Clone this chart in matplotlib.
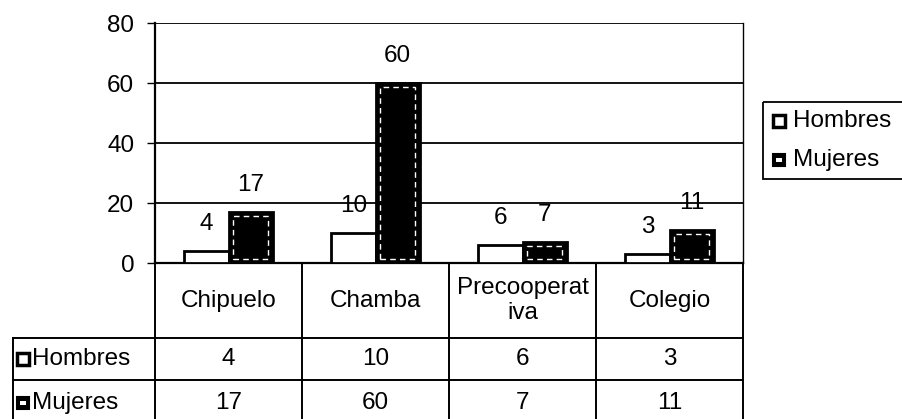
import matplotlib.pyplot as plt
from matplotlib.patches import Rectangle

categories = ['Chipuelo', 'Chamba', 'Precooperat\niva', 'Colegio']
series = ['Hombres', 'Mujeres']
hombres = [4, 10, 6, 3]
mujeres = [17, 60, 7, 11]

plt.rcParams['font.family'] = ['Liberation Sans', 'DejaVu Sans']
FS = 17.5
W, H = 902, 419
fig = plt.figure(figsize=(W / 100, H / 100), dpi=100)

# plot area in pixels
x0, x1, ytop, ybot = 155, 743, 23, 263
ax = fig.add_axes([x0 / W, 1 - ybot / H, (x1 - x0) / W, (ybot - ytop) / H])

n = len(categories)
pos = list(range(n))
bw = 0.3
b1 = ax.bar([p - bw / 2 for p in pos], hombres, bw, color='white', edgecolor='black', linewidth=2, zorder=3)
b2 = ax.bar([p + bw / 2 for p in pos], mujeres, bw, color='black', edgecolor='black', linewidth=2, zorder=3)
# dashed white inner outline of the dark bars (pattern fill in the scan)
for b, v in zip(b2, mujeres):
    ax.add_patch(Rectangle((b.get_x() + 0.03, 1.2), b.get_width() - 0.06, v - 2.4,
                           fill=False, edgecolor='white', linewidth=1, linestyle=(0, (4, 3)), zorder=4))
for bars, vals in ((b1, hombres), (b2, mujeres)):
    for b, v in zip(bars, vals):
        ax.annotate(str(v), (b.get_x() + b.get_width() / 2, v), xytext=(0, 27),
                    textcoords='offset pixels', ha='center', va='center', fontsize=FS)

ax.set_xlim(-0.5, n - 0.5)
ax.set_ylim(0, 80)
ax.set_yticks(range(0, 81, 20))
ax.set_xticks([])
ax.yaxis.grid(True, color='black', linewidth=1.3)
ax.set_axisbelow(True)
ax.spines['top'].set_visible(False)
ax.spines['right'].set_linewidth(1)
ax.spines['left'].set_linewidth(1.6)
ax.spines['bottom'].set_linewidth(1.6)
ax.tick_params(axis='y', direction='out', length=6, width=1, labelsize=FS, pad=9)

# data table and legend drawn on an overlay in pixel coordinates
ov = fig.add_axes([0, 0, 1, 1])
ov.set_xlim(0, W)
ov.set_ylim(H, 0)
ov.axis('off')

colw = (x1 - x0) / n
tleft = 13
rows = [(ybot, 338), (338, 380), (380, 426)]
kw = dict(color='black', linewidth=1.4, clip_on=False)
for y in (rows[1][0], rows[2][0]):
    ov.plot([tleft, x1], [y, y], **kw)
ov.plot([tleft, tleft], [rows[1][0], rows[2][1]], **kw)
for k in range(n + 1):
    xx = x0 + k * colw
    ov.plot([xx, xx], [rows[0][0], rows[2][1]], **kw)


def key(x, yc, i):
    if i == 0:
        ov.add_patch(Rectangle((x, yc - 6), 12, 12, facecolor='white', edgecolor='black', linewidth=2.5))
    else:
        ov.add_patch(Rectangle((x, yc - 6), 12, 12, facecolor='black', edgecolor='black', linewidth=1.5))
        ov.add_patch(Rectangle((x + 3, yc - 2), 6, 4, facecolor='white', edgecolor='none'))


for i, c in enumerate(categories):
    cx = x0 + (i + 0.5) * colw
    ov.text(cx, sum(rows[0]) / 2, c, ha='center', va='center', fontsize=FS, linespacing=1.2)
    ov.text(cx, sum(rows[1]) / 2, str(hombres[i]), ha='center', va='center', fontsize=FS)
    ov.text(cx, 403, str(mujeres[i]), ha='center', va='center', fontsize=FS)
for i, (yc, name) in enumerate(zip((359, 403), series)):
    key(17, yc, i)
    ov.text(32, yc, name, ha='left', va='center', fontsize=FS)

# legend
ov.add_patch(Rectangle((763, 102), 160, 77, facecolor='none', edgecolor='black', linewidth=1.3))
for i, (yc, name) in enumerate(zip((121, 160), series)):
    key(773, yc, i)
    ov.text(793, yc, name, ha='left', va='center', fontsize=FS)

fig.savefig('out.png', dpi=100)
